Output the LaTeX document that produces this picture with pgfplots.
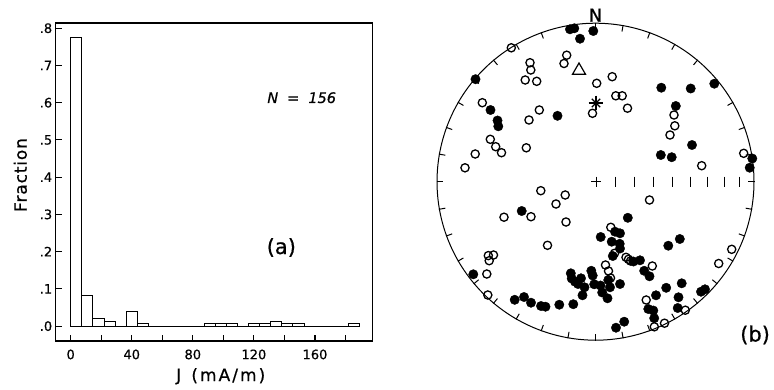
\documentclass[border=0pt]{standalone}
\usepackage{pgfplots}
\pgfplotsset{compat=1.18}
\usepackage{fontspec}
\setmainfont{DejaVu Sans}
\newfontfamily\fracfont[LetterSpace=5,FakeBold=0.7]{DejaVu Sans}
\newfontfamily\jfont[LetterSpace=12,FakeBold=0.7]{DejaVu Sans}
\newfontfamily\tfont[FakeBold=0.6]{DejaVu Sans}
\newfontfamily\ofont[FakeBold=0.6]{DejaVu Sans Oblique}
\begin{document}
\begin{tikzpicture}[x=1pt,y=1pt]
\useasboundingbox (0,0) rectangle (774,389);
% ---------------- (a) histogram ----------------
\begin{axis}[
  at={(55.7pt,48pt)}, anchor=south west, scale only axis,
  width=317pt, height=318pt,
  xmin=-9.8, xmax=197.8, ymin=-0.040, ymax=0.814,
  tick pos=left, tick align=inside, major tick length=6.5pt,
  xtick={0,20,40,60,80,100,120,140,160,180},
  xticklabels={0,,40,,80,,120,,160,},
  ytick={0,0.1,0.2,0.3,0.4,0.5,0.6,0.7,0.8},
  yticklabels={.0,.1,.2,.3,.4,.5,.6,.7,.8},
  ticklabel style={font=\fontsize{13}{15}\tfont},
  xticklabel style={yshift=-5pt},
  axis line style={line width=1.3pt},
  tick style={line width=1.1pt, black},
  /pgf/number format/assume math mode=true,
]
\addplot[black, line width=1pt, no marks] coordinates {(0,0) (189.28,0)};
\addplot[ybar interval, draw=black, fill=none, line width=1pt] coordinates {
(0,0.7756) (7.28,0.0833) (14.56,0.0192) (21.84,0.0128) (29.12,0) (36.4,0.0385)
(43.68,0.0064) (50.96,0) (58.24,0) (65.52,0) (72.8,0) (80.08,0)
(87.36,0.0064) (94.64,0.0064) (101.92,0.0064) (109.2,0) (116.48,0.0064)
(123.76,0.0064) (131.04,0.0128) (138.32,0.0064) (145.6,0.0064)
(152.88,0) (160.16,0) (167.44,0) (174.72,0) (182,0.0064) (189.28,0.0064)
};
\end{axis}
\node[rotate=90, anchor=base, inner sep=0] at (26.7,214) {\fontsize{17}{20}\fracfont Fraction};
\node[anchor=base, inner sep=0] at (220.8,8) {\fontsize{17}{20}\jfont J\hspace{10pt}(mA/m)};
\node[anchor=base, inner sep=0] at (301.7,286) {\fontsize{14.5}{17}\ofont N\hspace{9pt}=\hspace{9pt}156};
\node[anchor=base west, inner sep=0] at (266.5,135) {\fontsize{21}{24}\tfont (a)};
% ---------------- (b) equal-area net ----------------
\begin{axis}[
  at={(437pt,48.8pt)}, anchor=south west, scale only axis,
  width=317pt, height=317pt,
  xmin=437, xmax=754, ymin=23.2, ymax=340.2, y dir=reverse,
  hide axis, clip=false,
]
\addplot[domain=0:360, samples=240, black, line width=1pt, no marks] ({595.5+158.5*cos(x)},{181.7+158.5*sin(x)});
\pgfplotsinvokeforeach{0,10,...,350}{
  \draw[line width=1pt] (axis cs:{595.5+159*sin(#1)},{181.7-159*cos(#1)}) -- (axis cs:{595.5+152.5*sin(#1)},{181.7-152.5*cos(#1)});
}
\pgfplotsinvokeforeach{10,20,...,80}{
  \draw[line width=1pt] (axis cs:{595.5+224.15*sin((90-#1)/2)},176.7) -- (axis cs:{595.5+224.15*sin((90-#1)/2)},186.7);
}
\draw[line width=1pt] (axis cs:591,181.7) -- (axis cs:601,181.7);
\draw[line width=1pt] (axis cs:596,176.7) -- (axis cs:596,186.7);
% filled circles (lower hemisphere)
\addplot[only marks, mark=*, mark size=4.7pt, mark options={fill=black, draw=black}] coordinates {
(570.0,29.3) (574.3,28.3) (580.0,38.7) (593.3,31.0) (475.5,79.2) (490.5,110.0)
(497.5,120.5) (498.3,126.3) (557.5,115.8) (661.3,87.7) (690.7,88.5) (714.3,83.7)
(675.8,106.0) (692.0,145.0) (660.8,155.0) (671.7,157.2) (752.3,158.5) (749.7,167.7)
(521.7,211.0) (627.8,217.8) (600.7,237.0) (615.0,231.7) (620.0,233.3) (611.7,241.7)
(619.7,243.8) (620.0,248.5) (612.8,256.0) (679.8,239.0) (668.3,245.7) (473.3,274.3)
(514.7,299.8) (524.0,297.0) (531.0,302.7) (541.0,306.0) (545.5,306.7) (559.3,304.7)
(573.3,304.2) (570.8,273.3) (571.7,278.5) (575.0,281.7) (581.0,278.3) (584.5,287.3)
(582.5,295.3) (591.3,270.8) (592.7,275.5) (594.2,284.3) (600.5,285.5) (602.2,292.5)
(607.5,298.3) (610.0,287.3) (620.0,284.0) (608.3,280.0) (633.5,261.5) (640.0,260.3)
(644.2,270.8) (649.5,276.3) (656.0,295.3) (666.2,287.8) (681.7,283.3) (678.5,297.3)
(677.7,308.0) (648.3,309.0) (653.3,310.5) (654.2,318.2) (616.0,327.7) (624.2,321.7)
(701.0,291.7) (705.0,289.3) (578.0,284.0)
};
% open circles (upper hemisphere)
\addplot[only marks, mark=o, mark size=4.1pt, mark options={line width=1.3pt, draw=black}] coordinates {
(511.3,47.8) (566.7,55.2) (564.0,63.5) (530.0,62.7) (530.8,70.0) (525.2,80.0)
(536.7,81.3) (596.7,83.3) (612.2,76.7) (615.8,95.8) (622.2,95.8) (627.5,108.2)
(592.5,113.3) (482.3,102.7) (539.3,110.0) (529.0,120.0) (490.3,139.3) (495.7,146.7)
(501.5,152.7) (475.2,154.0) (465.0,167.8) (526.3,147.8) (674.0,115.0) (674.8,125.8)
(670.0,135.0) (701.7,165.7) (743.7,153.3)
(540.8,190.7) (565.2,195.0) (556.0,204.0) (649.5,200.0) (504.0,217.2) (531.0,216.7)
(566.0,222.0) (547.5,245.3) (610.8,227.3) (488.3,255.6) (493.5,255.0) (489.2,260.7)
(486.8,274.0) (487.8,295.0) (605.5,265.0) (608.5,271.0) (610.5,278.0) (614.5,253.3)
(626.0,257.3) (628.5,259.3) (630.5,261.0) (652.3,266.0) (646.2,300.0) (731.7,249.3)
(718.7,263.5) (685.3,310.2) (664.5,323.2) (654.3,326.8)
};
% mean direction (asterisk) and reference direction (triangle)
\addplot[only marks, mark=+, mark size=7.4pt, mark options={line width=1.1pt}] coordinates {(596,103)};
\addplot[only marks, mark=x, mark size=6pt, mark options={line width=1.1pt}] coordinates {(596,103)};
\addplot[only marks, mark=triangle, mark size=7.5pt, mark options={line width=1.2pt, fill=white}] coordinates {(579,70.5)};
\end{axis}
\node[anchor=base, inner sep=0] at (595.5,367.3) {\fontsize{18}{21}\tfont N};
\node[anchor=base west, inner sep=0] at (740,47.5) {\fontsize{21}{24}\tfont (b)};
\end{tikzpicture}
\end{document}
